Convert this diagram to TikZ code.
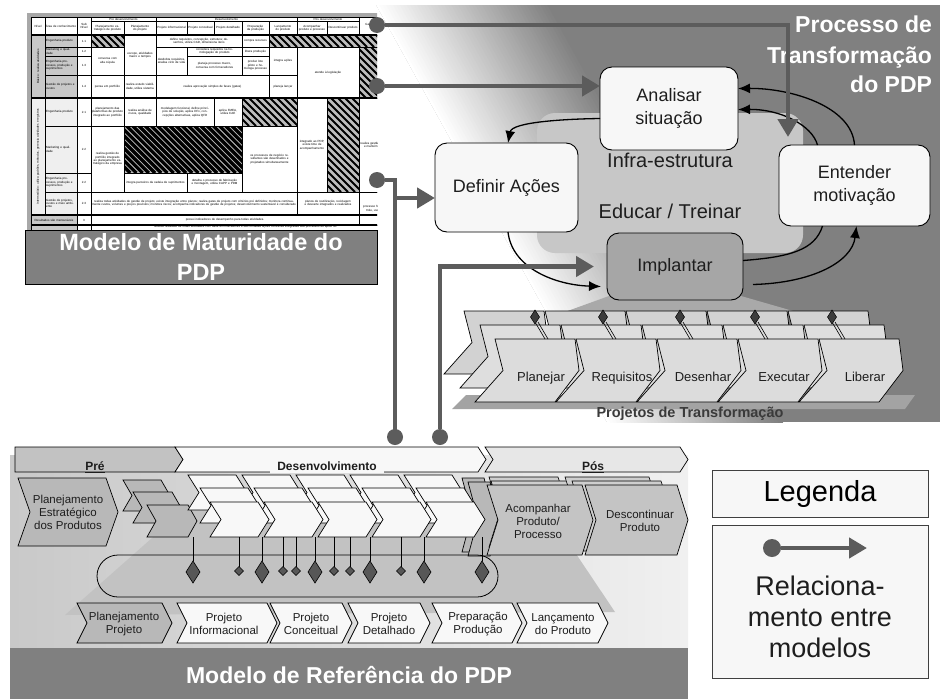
\documentclass[tikz,border=0pt]{standalone}
\usepackage{fontspec}
\setmainfont{Liberation Sans}
\usetikzlibrary{arrows.meta,calc}

\definecolor{pgray}{HTML}{808080}
\definecolor{cgray}{HTML}{5C5C5C}
\definecolor{cloudg}{HTML}{C7C7C7}
\definecolor{spotg}{HTML}{A9A9A9}
\definecolor{boxw}{HTML}{F7F7F7}
\definecolor{implg}{HTML}{A6A6A6}
\definecolor{chback}{HTML}{D2D2D2}
\definecolor{chmid}{HTML}{DEDEDE}
\definecolor{chfront}{HTML}{DCDCDC}
\definecolor{groundg}{HTML}{A3A3A3}
\definecolor{pindia}{HTML}{3C3C3C}
\definecolor{tframe}{HTML}{A8A8A8}
\definecolor{tgray}{HTML}{C8C8C8}
\definecolor{tlight}{HTML}{EFEFEF}
\definecolor{hatchbg}{HTML}{BDBDBD}
\definecolor{refL}{HTML}{C9C9C9}
\definecolor{refR}{HTML}{F0F0F0}
\definecolor{refshadow}{HTML}{C2C2C2}
\definecolor{pregray}{HTML}{C2C2C2}
\definecolor{devw}{HTML}{F8F8F8}
\definecolor{posw}{HTML}{E7E7E7}
\definecolor{refchev}{HTML}{B8B8B8}
\definecolor{poschev}{HTML}{C4C4C4}
\definecolor{poschevb}{HTML}{CECECE}
\definecolor{gated}{HTML}{575757}
\definecolor{legfill}{HTML}{F7F7F7}
\definecolor{textd}{HTML}{1E1E1E}
\definecolor{ptitle}{HTML}{3A3A3A}

\newcommand\fsz[2]{\fontsize{#1}{#2}\selectfont}
\newcommand\tabfont{\fontsize{3.0}{3.4}\selectfont}

% chevron: style, left x, top y, width, height, notch/point depth
\newcommand\chev[6]{%
  \path[#1] (#2,#3) -- ++({#4-#6},0) -- ++(#6,{#5/2}) -- ++({-#6},{#5/2})
    -- ++({#6-#4},0) -- ++(#6,{-#5/2}) -- cycle;}

% slanted chevron of the transformation projects: style, bottom-left x, bottom y
\newcommand\schev[3]{%
  \path[#1] (#2,#3) -- ++(80,0) -- ++(24,-31.5) -- ++(-4,-31.5) -- ++(-80,0)
    -- ++(8,31.5) -- cycle;}

% table cells
\newcount\tcn
\newcommand\tcell[6][]{%
  \global\advance\tcn by 1
  \draw[tline,#1] (#2,#3) rectangle (#4,#5);
  \pgfmathsetmacro\tcw{#4-#2-1.6}%
  \node[tcell, text width=\tcw pt, name=tc\the\tcn] at ({(#2+#4)/2},{(#3+#5)/2}) {#6};}
\newcommand\tarea[6][]{%
  \global\advance\tcn by 1
  \draw[tline,#1] (#2,#3) rectangle (#4,#5);
  \pgfmathsetmacro\tcw{#4-#2-2.5}%
  \node[tcell, align=left, anchor=west, text width=\tcw pt, name=tc\the\tcn] at ({#2+1.2},{(#3+#5)/2}) {#6};}
\newcommand\hatchcell[6]{%
  \begin{scope}
    \clip (#1,#2) rectangle (#3,#4);
    \fill[hatchbg] (#1,#2) rectangle (#3,#4);
    \pgfmathsetmacro\hcH{#4-#2}%
    \pgfmathsetmacro\hcS{#1-\hcH-#6}%
    \pgfmathsetmacro\hcN{#1-\hcH}%
    \foreach \hx in {\hcS,\hcN,...,#3} \draw[line width=#5] (\hx,#2) -- ++(\hcH,\hcH);
  \end{scope}
  \draw[tline] (#1,#2) rectangle (#3,#4);}

\begin{document}
\begin{tikzpicture}[x=1pt, y=-1pt,
  every node/.style={inner sep=0pt, outer sep=0pt},
  tline/.style={draw=black, line width=0.5pt},
  tcell/.style={font=\tabfont, align=center, text=black},
  pbox/.style={draw=black, line width=0.9pt, rounded corners=12pt, fill=boxw,
    align=center, font=\fsz{18}{23}, text=textd},
  flow/.style={draw=black, line width=1.3pt, -{Latex[length=12pt,width=10pt]}},
  flowplain/.style={draw=black, line width=1.3pt},
  gline/.style={draw=cgray, line width=4.5pt},
  gconn/.style={gline, -{Triangle[length=18pt,width=20pt]}},
  gdot/.style={circle, fill=cgray, minimum size=16pt},
  ptit/.style={font=\bfseries\fsz{23}{28}, text=white},
  tchev/.style={draw=black, line width=0.7pt},
  tlab/.style={font=\fsz{13}{15}, text=textd, anchor=base},
  refc/.style={draw=black, line width=0.7pt, fill=refchev},
  devc/.style={draw=black, line width=0.7pt, fill=devw},
  posb/.style={draw=black, line width=0.6pt, fill=poschevb},
  posf/.style={draw=black, line width=0.7pt, fill=poschev},
  reftxt/.style={font=\fsz{11.5}{13}, align=center, text=textd},
  gate/.style={draw=black, line width=0.6pt, fill=gated},
  phase/.style={font=\bfseries\fsz{12}{14}, text=textd},
  legb/.style={draw=black!75, line width=1pt, fill=legfill, minimum width=216pt}
]
\useasboundingbox (0,0) rectangle (940,699);
\fill[white] (0,0) rectangle (940,699);

% ---------- Processo de Transformacao: slanted grey ramp ----------
\begin{scope}
  \clip (376,5) rectangle (940,422);
  \fill[pgray] (376,5) rectangle (940,422);
  \fill[white] (-792.2,-196) -- (-17.8,1204) -- (791.6,756.3) -- (17.2,-643.7) -- cycle;
  \foreach \k in {0,...,50} {
    \pgfmathsetmacro\gsA{-75+3*\k}
    \pgfmathsetmacro\gsB{\gsA+4}
    \pgfmathsetmacro\gsP{min(100,2*\k)}
    \fill[pgray!\gsP!white]
      ({470+0.875*\gsA-387.2},{20-0.484*\gsA-700}) --
      ({470+0.875*\gsA+387.2},{20-0.484*\gsA+700}) --
      ({470+0.875*\gsB+387.2},{20-0.484*\gsB+700}) --
      ({470+0.875*\gsB-387.2},{20-0.484*\gsB-700}) -- cycle;
  }
\end{scope}

% infrastructure area and light cone under Implantar
\fill[cloudg, rounded corners=18pt] (537,113) rectangle (803,253);
\fill[spotg] (609,296) -- (741,296) -- (800,313) -- (562,313) -- cycle;
\fill[groundg] (452,409) -- (905,409) -- (915,395) -- (466,395) -- cycle;

% transformation project chevrons (three layers)
\foreach \x in {475,556,637,718,799} {\schev{tchev, fill=chback}{\x-31}{374}}
\foreach \x in {475,556,637,718,799} {\schev{tchev, fill=chmid}{\x-15}{388}}
\foreach \x in {475,556,637,718,799} {\schev{tchev, fill=chfront}{\x}{402}}
\foreach \x in {535,603,680,755,832} {
  \draw[line width=0.6pt] (\x,322) -- ++(10,17);
  \draw[line width=0.6pt] (\x+3,322) -- ++(10,17);
  \path[draw=black, line width=0.5pt, fill=pindia] (\x,310) -- (\x+4.5,317) -- (\x,324) -- (\x-4.5,317) -- cycle;
}
\node[tlab] (tpl) at (541,381) {Planejar};
\node[tlab] (treq) at (622,381) {Requisitos};
\node[tlab] (tdes) at (703,381) {Desenhar};
\node[tlab] (texe) at (784,381) {Executar};
\node[tlab] (tlib) at (865,381) {Liberar};
\node[font=\bfseries\fsz{14.5}{17}, text=ptitle] (ptrans) at (690,414) {Projetos de Transformação};

% transformation cycle
\node[pbox, minimum width=138pt, minimum height=83pt] (analisar) at (669,108.5) {Analisar\\situação};
\node[pbox, minimum width=143pt, minimum height=89pt] (definir) at (506.5,187.5) {Definir Ações};
\node[pbox, minimum width=151pt, minimum height=81pt] (entender) at (854.5,185.5) {Entender\\motivação};
\node[pbox, fill=implg, minimum width=136pt, minimum height=67pt] (implantar) at (675,266.5) {Implantar};
\node[font=\fsz{20}{24}, text=textd] (infra) at (670,160) {Infra-estrutura};
\node[font=\fsz{20}{24}, text=textd] (educar) at (670,211) {Educar / Treinar};

\draw[flow] ($(analisar.west)+(0,10)$) .. controls (565,119) and (512,122) .. ($(definir.north)+(1.5,0)$);
\draw[flow] ($(definir.south)+(1.5,0)$) .. controls (512,268) and (555,285) .. ($(implantar.west)+(-6,20)$);
\draw[flowplain] ($(implantar.east)+(0,-6)$) .. controls (790,257) and (815,250) .. ($(entender.south)+(-32,0)$);
\draw[flow] ($(implantar.east)+(10,18)$) .. controls (812,283) and (852,262) .. ($(entender.south)+(2,0)$);
\draw[flow] (entender.north) .. controls (852,106) and (790,88) .. ($(analisar.east)+(0,-20)$);
\draw[flow] ($(entender.north)+(-37,0)$) .. controls (812,125) and (780,109) .. ($(analisar.east)+(0,1)$);

\node[ptit, anchor=base east] (pt1) at (932,32.5) {Processo de};
\node[ptit, anchor=base east] (pt2) at (932,63) {Transformação};
\node[ptit, anchor=base east] (pt3) at (932,92) {do PDP};

% ---------- maturity model table ----------
\begin{scope}
\clip (26,10) rectangle (377,240);
\fill[white] (27,14) rectangle (400,240);
\fill[tframe] (27,13) rectangle (400,17);
\fill[tframe] (27,13) rectangle (31,240);
% header
\tcell{31}{17}{45}{35}{Nível}
\tcell{45}{17}{77}{35}{Área de conhecimento}
\tcell{77}{17}{91}{35}{Sub Nível}
\tcell{91}{17}{156}{21}{Pré desenvolvimento}
\tcell{156}{17}{297}{21}{Desenvolvimento}
\tcell{297}{17}{359}{21}{Pós desenvolvimento}
\tcell{359}{17}{400}{35}{Gerenciar mudanças de engenharia}
\tcell{91}{21}{124}{35}{Planejamento estratégico de produto}
\tcell{124}{21}{156}{35}{Planejamento do projeto}
\tcell{156}{21}{187}{35}{Projeto informacional}
\tcell{187}{21}{214}{35}{Projeto conceitual}
\tcell{214}{21}{242}{35}{Projeto detalhado}
\tcell{242}{21}{269}{35}{Preparação da produção}
\tcell{269}{21}{297}{35}{Lançamento do produto}
\tcell{297}{21}{327}{35}{Acompanhar produto e processo}
\tcell{327}{21}{359}{35}{Descontinuar produto}
% level 1
\draw[tline, fill=tgray] (31,35) rectangle (45,98);
\node[tcell, rotate=90, text width=56pt] (niv1) at (38,66.5) {Básico: realiza atividades};
\tarea[fill=tgray]{45}{35}{77}{47}{Engenharia produto}
\tcell{77}{35}{91}{47}{1.1}
\hatchcell{91}{35}{124}{47}{1.8}{7}
\tcell{124}{35}{156}{75}{escopo, atividades macro e tempos}
\tcell{156}{35}{242}{47}{define requisitos, concepção, estrutura; desenhos, utiliza CAD, dimensiona itens}
\tcell{242}{35}{269}{47}{compra recursos}
\hatchcell{269}{35}{400}{47}{1.8}{7}
\tarea[fill=tgray]{45}{47}{77}{56}{Marketing e qualidade}
\tcell{77}{47}{91}{56}{1.2}
\tcell{91}{47}{124}{75}{conversa com alta cúpula}
\tcell{156}{47}{187}{75}{desdobra requisitos, analisa ciclo de vida}
\tcell{187}{47}{242}{56}{considera requisitos na homologação do produto}
\tcell{242}{47}{269}{56}{libera produção}
\tcell{269}{47}{297}{75}{integra ações}
\tcell{297}{47}{359}{98}{atende à legislação}
\hatchcell{359}{47}{400}{98}{1.8}{7}
\tarea[fill=tgray]{45}{56}{77}{75}{Engenharia processos, produção e suprimentos}
\tcell{77}{56}{91}{75}{1.3}
\tcell{187}{56}{242}{75}{planeja processo macro, conversa com fornecedores}
\tcell{242}{56}{269}{75}{produz lote piloto e homologa processo}
\tarea[fill=tgray]{45}{75}{77}{98}{Gestão de projetos e custos}
\tcell{77}{75}{91}{98}{1.4}
\tcell{91}{75}{124}{98}{pensa em portfólio}
\tcell{124}{75}{156}{98}{realiza estudo viabilidade, utiliza sistema}
\tcell{156}{75}{269}{98}{realiza aprovação simples de fases (gates)}
\tcell{269}{75}{297}{98}{planeja lançar}
% level 2
\draw[tline, fill=tlight] (31,98) rectangle (45,215);
\node[tcell, rotate=90, text width=110pt] (niv2) at (38,156.5) {Intermediário: utiliza padrões, métodos, gerencia atividades e registros};
\tarea[fill=tlight]{45}{98}{77}{126}{Engenharia produto}
\tcell{77}{98}{91}{126}{2.1}
\tcell{91}{98}{124}{126}{planejamento das plataformas de produto integrado ao portfólio}
\tcell{124}{98}{156}{126}{realiza análise de riscos, qualidade}
\tcell{156}{98}{214}{126}{modelagem funcional, define princípios de solução, aplica DFx, concepções alternativas, aplica QFD}
\tcell{214}{98}{242}{126}{aplica FMEA, utiliza CAE}
\hatchcell{242}{98}{297}{126}{1.8}{7}
\tcell{297}{98}{327}{192}{integrado ao PDP, existe time de acompanhamento}
\hatchcell{327}{98}{359}{192}{1.8}{7}
\tcell{359}{98}{400}{192}{realiza gestão de mudanças e mantém informações}
\tarea[fill=tlight]{45}{126}{77}{173}{Marketing e qualidade}
\tcell{77}{126}{91}{173}{2.2}
\tcell{91}{126}{124}{192}{realiza gestão de portfólio integrado ao planejamento estratégico da empresa}
\hatchcell{124}{126}{242}{173}{3.3}{6.2}
\tcell{242}{126}{297}{192}{os processos de negócio resultantes são desenhados e projetados simultaneamente}
\tarea[fill=tlight]{45}{173}{77}{192}{Engenharia processos, produção e suprimentos}
\tcell{77}{173}{91}{192}{2.2}
\tcell{124}{173}{187}{192}{integra parceiros da cadeia de suprimentos}
\tcell{187}{173}{242}{192}{detalha o processo de fabricação e montagem, utiliza CAPP e PDM}
\tarea[fill=tlight]{45}{192}{77}{215}{Gestão de projetos, custos e meio ambiente}
\tcell{77}{192}{91}{215}{2.3}
\tcell{91}{192}{297}{215}{realiza todas atividades de gestão de projeto; existe integração entre planos; realiza gates de projeto com critérios pré definidos; monitora continuamente custos, volumes e preços previstos; monitora riscos; acompanha indicadores de gestão de projetos; desenvolvimento sustentável é considerado}
\tcell{297}{192}{359}{215}{planos de reutilização, reciclagem e descarte integrados e realizados}
\tcell{359}{192}{400}{225}{processo formal de controle, uso eletrônico}
% level 3 and beyond
\tcell[fill=tgray]{31}{215}{77}{225}{Resultados são mensuráveis}
\tcell{77}{215}{91}{225}{3}
\tcell{91}{215}{359}{225}{possui indicadores de desempenho para todas atividades.}
\draw[tline, fill=tgray] (31,225) rectangle (77,240);
\draw[tline] (77,225) rectangle (91,240);
\draw[tline] (91,225) rectangle (400,240);
\node[tcell, anchor=north, text width=300pt] (tcl4) at (245.5,225.8) {acessa resultado de todas atividades com base em indicadores e são tomadas ações corretivas integradas aos processos de apoio do};
\draw[line width=1.1pt] (31,35) -- (400,35) (31,98) -- (400,98) (31,215) -- (400,215) (31,225) -- (400,225);
\end{scope}
\node[draw=black, line width=1pt, fill=pgray, minimum width=352pt, minimum height=54pt,
  font=\bfseries\fsz{23.5}{30}, text=white, align=center] (mmlabel) at (201,257) {Modelo de Maturidade do\\PDP};

% ---------- reference model ----------
\fill[left color=refL, right color=refR] (10,455) rectangle (688,648);
\fill[refshadow] (65,615) -- (195,500) -- (560,530) -- (615,612) -- cycle;
\fill[pgray] (10,648) rectangle (688,699);
\node[font=\bfseries\fsz{23}{27}, text=white] (mrtitle) at (349,675) {Modelo de Referência do PDP};

% macro phases
\path[draw=black, line width=0.7pt, fill=pregray] (15,447) -- (175,447) -- (183,459.5) -- (175,472) -- (15,472) -- cycle;
\chev{draw=black, line width=0.7pt, fill=devw}{175}{447}{311}{25}{8}
\chev{draw=black, line width=0.7pt, fill=posw}{485}{447}{203}{25}{8}
\node[phase] (phpre) at (95,467) {\underline{Pré}};
\node[phase, fill=devw, minimum height=12pt, inner xsep=7pt, anchor=south] (phdev) at (327,472.5) {Desenvolvimento};
\node[phase] (phpos) at (593,467) {\underline{Pós}};

% pre-development
\chev{refc}{18}{478}{100}{68}{12}
\node[reftxt] (pep) at (68,512) {Planejamento\\Estratégico\\dos Produtos};
\chev{refc}{123}{480}{47}{31}{9}
\chev{refc}{133}{492}{48}{31}{9}
\chev{refc}{147}{505}{50}{32}{9}

% launch stack and development stacks
\chev{refc}{462}{478}{32}{74}{10}
\chev{refc}{468}{482}{32}{74}{10}
\foreach \x in {210,264,318,372,426} {\chev{devc}{\x-22}{475}{59}{35}{11}}
\foreach \x in {210,264,318,372,426} {\chev{devc}{\x-10}{488}{59}{35}{11}}
\foreach \x in {210,264,318,372,426} {\chev{devc}{\x}{502}{59}{35}{11}}

% post-development
\chev{posb}{489}{477}{80}{70}{11}
\chev{posb}{491}{481}{88}{70}{11}
\chev{posb}{565}{477}{95}{70}{11}
\chev{posb}{572}{481}{100}{70}{11}
\chev{posf}{487}{485}{106}{70}{11}
\chev{posf}{585}{485}{103}{70}{11}
\node[reftxt] (acomp) at (538,521) {Acompanhar\\Produto/\\Processo};
\node[reftxt] (desc) at (640,521) {Descontinuar\\Produto};

% gates
\draw[black, line width=0.8pt, rounded corners=21pt] (97,555) rectangle (498,597);
\foreach \x in {193,262,315,370,424,482} {
  \draw[line width=0.7pt] (\x,537) -- (\x,561);
  \path[gate] (\x,561) -- (\x+7,572) -- (\x,583) -- (\x-7,572) -- cycle;
}
\foreach \x in {239,283,296,334,350,401} {
  \draw[line width=0.7pt] (\x,537) -- (\x,566.5);
  \path[gate] (\x,566.5) -- (\x+4.5,571) -- (\x,575.5) -- (\x-4.5,571) -- cycle;
}

% development phases
\chev{refc}{77}{603}{95}{40}{10}
\chev{devc}{177}{603}{100}{40}{10}
\chev{devc}{270}{603}{82}{40}{10}
\chev{devc}{348}{603}{82}{40}{10}
\chev{devc}{432}{603}{90}{40}{10}
\chev{devc}{517}{603}{91}{40}{10}
\node[reftxt] (pp) at (124,624) {Planejamento\\Projeto};
\node[reftxt] (pi) at (224,624) {Projeto\\Informacional};
\node[reftxt] (pc) at (311,624) {Projeto\\Conceitual};
\node[reftxt] (pd) at (389,624) {Projeto\\Detalhado};
\node[reftxt] (pprep) at (478,624) {Preparação\\Produção};
\node[reftxt] (plan) at (563,624) {Lançamento\\do Produto};

% ---------- relations between the models ----------
\node[gdot] (m1) at (377,25) {};
\node[gdot] (m2) at (377,86) {};
\node[gdot] (m3) at (377,180) {};
\node[gdot] (r1) at (395,437) {};
\node[gdot] (r2) at (440,437) {};
\coordinate (t1) at (788,137);
\coordinate (j1) at (395,198);
\draw[gconn] (m1) -| (t1);
\draw[gconn] (m2) -- (m2 -| analisar.west);
\draw[gconn] (m3) -| (j1) -- (definir.west |- j1);
\draw[gline, line cap=rect] (r1) -- (j1);
\draw[gconn, shorten >=13pt] (r2) |- (implantar.west);

% ---------- legend ----------
\node[legb, minimum height=47pt, font=\fsz{29}{33}] (legenda) at (820,493.5) {Legenda};
\node[legb, minimum height=153pt] (legbox) at (820,601.5) {};
\node[gdot, minimum size=18pt] (legdot) at (772,548) {};
\coordinate (legtip) at (867,548);
\draw[gconn] (legdot) -- (legtip);
\node[font=\fsz{27}{31}, align=center, text=textd] (legtxt) at (820,617) {Relaciona-\\mento entre\\modelos};
\end{tikzpicture}
\end{document}
